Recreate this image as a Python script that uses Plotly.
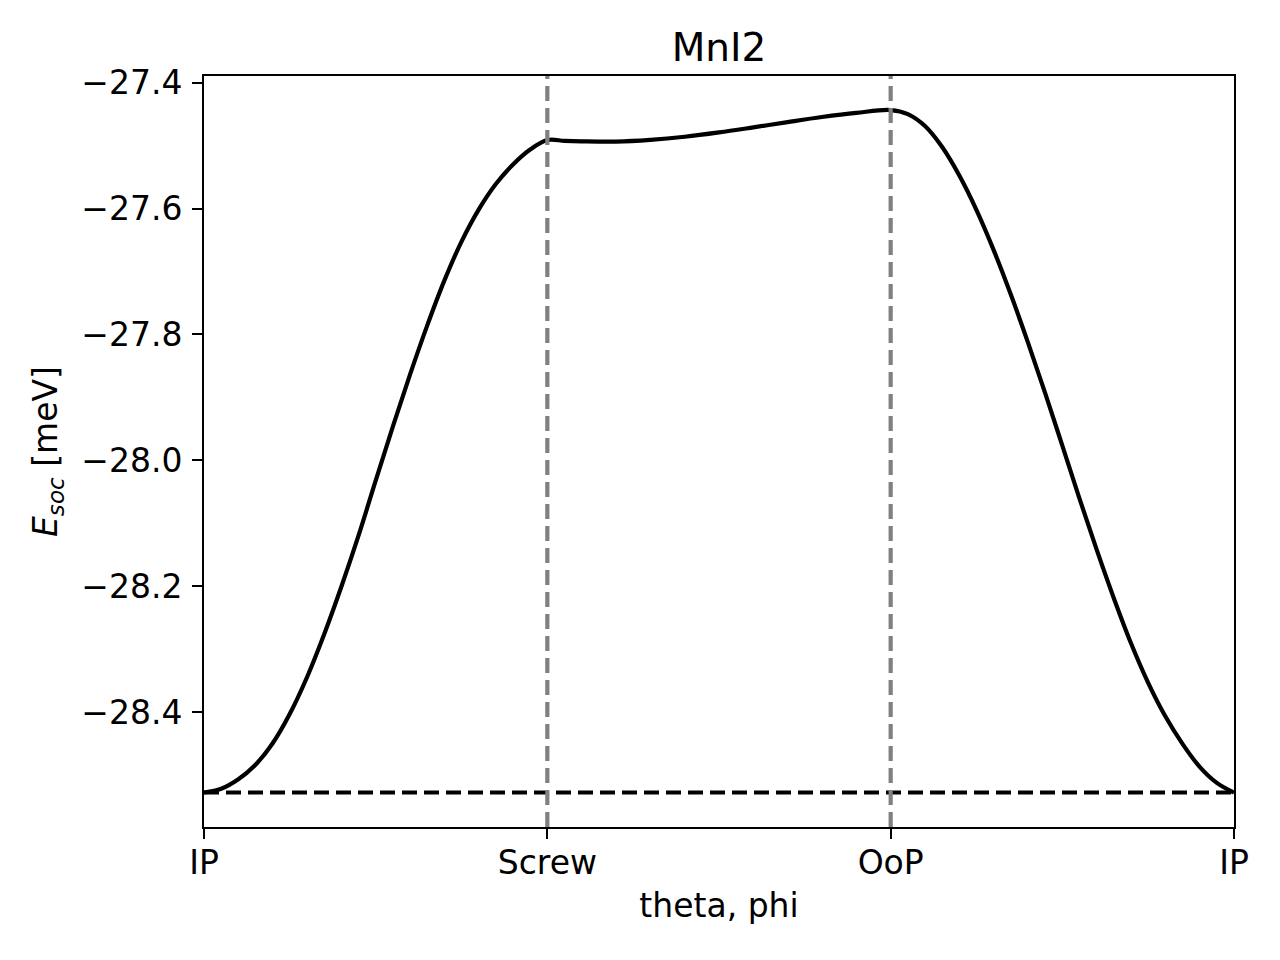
import plotly.graph_objects as go

# path positions: IP -> Screw -> OoP -> IP
tick_pos = [0, 1, 2, 3]
tick_names = ['IP', 'Screw', 'OoP', 'IP']

# IP -> Screw (meV)
x_ip_screw = [0.0, 0.05, 0.1, 0.15, 0.2, 0.25, 0.3, 0.35, 0.4, 0.45, 0.5,
              0.55, 0.6, 0.65, 0.7, 0.75, 0.8, 0.85, 0.9, 0.95, 1.0]
e_ip_screw = [-28.528, -28.5221, -28.5070, -28.4839, -28.4498, -28.4029, -28.3448,
              -28.2765, -28.2010, -28.1199, -28.0324, -27.9466, -27.8639, -27.7860,
              -27.7145, -27.6525, -27.6016, -27.5610, -27.5300, -27.5062, -27.4911]

# Screw -> OoP
x_screw_oop = [1.05, 1.1, 1.2, 1.3, 1.4, 1.5, 1.6, 1.7, 1.8, 1.9, 2.0]
e_screw_oop = [-27.4924, -27.4931, -27.4935, -27.4908, -27.4859, -27.4790, -27.4709,
               -27.4625, -27.4545, -27.4479, -27.4434]

# OoP -> IP
x_oop_ip = [2.05, 2.1, 2.15, 2.2, 2.25, 2.3, 2.35, 2.4, 2.45, 2.5,
            2.55, 2.6, 2.65, 2.7, 2.75, 2.8, 2.85, 2.9, 2.95, 3.0]
e_oop_ip = [-27.4498, -27.4688, -27.5022, -27.5475, -27.6024, -27.6660, -27.7367,
            -27.8130, -27.8933, -27.9768, -28.0610, -28.1421, -28.2192, -28.2908,
            -28.3536, -28.4068, -28.4506, -28.4871, -28.5126, -28.528]

path_x = x_ip_screw + x_screw_oop + x_oop_ip
e_soc = e_ip_screw + e_screw_oop + e_oop_ip
e_min = min(e_soc)

y_ticks = [-27.4, -27.6, -27.8, -28.0, -28.2, -28.4]
font = 'DejaVu Sans'

fig = go.Figure()
fig.add_trace(go.Scatter(x=path_x, y=e_soc, mode='lines', line_shape='spline',
                         line=dict(color='black', width=4.2, smoothing=1.0), showlegend=False))
fig.add_trace(go.Scatter(x=[tick_pos[0], tick_pos[-1]], y=[e_min, e_min], mode='lines',
                         line=dict(color='black', width=4.2, dash='15px,7px'), showlegend=False))
for xv in tick_pos[1:3]:
    fig.add_vline(x=xv, line=dict(color='#808080', width=4.2, dash='15px,7px'))

axis_style = dict(showline=True, linecolor='black', linewidth=2, mirror=True,
                  ticks='outside', ticklen=10, tickwidth=2, tickcolor='black',
                  showgrid=False, zeroline=False,
                  tickfont=dict(family=font, size=33, color='black'))

fig.update_xaxes(range=[0, 3], tickvals=tick_pos, ticktext=tick_names,
                 title=dict(text='theta, phi', font=dict(family=font, size=33, color='black'),
                            standoff=13),
                 ticklabelstandoff=-5,
                 **axis_style)
fig.update_yaxes(range=[-28.5828, -27.3893], tickvals=y_ticks,
                 ticktext=[('\u2212%.1f' % abs(v)) for v in y_ticks],
                 title=dict(text='<i>E</i><sub><i>soc</i></sub> [meV]',
                            font=dict(family=font, size=33, color='black'), standoff=14),
                 ticklabelstandoff=3,
                 **axis_style)

fig.update_layout(
    width=1280, height=960,
    margin=dict(l=196, r=54, t=68, b=141),
    paper_bgcolor='white', plot_bgcolor='white',
    title=dict(text='MnI2', x=711 / 1280, xanchor='center',
               y=1 - 39 / 960, yanchor='middle',
               font=dict(family=font, size=39, color='black')),
)

fig.write_html("out.html")
